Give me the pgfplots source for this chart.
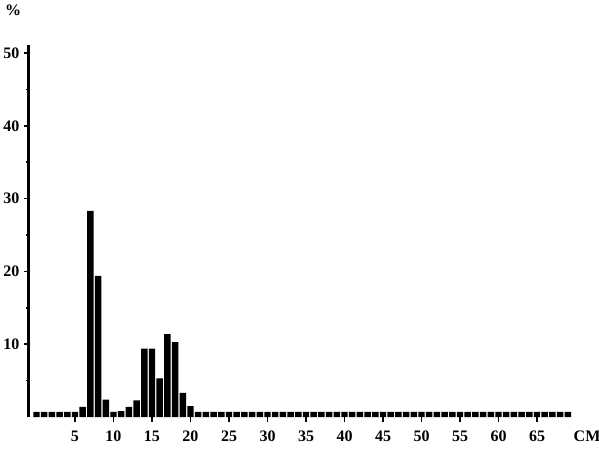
\documentclass[border=0pt]{standalone}
\usepackage{pgfplots}
\pgfplotsset{compat=1.18}
\usepackage{fontspec}
\setmainfont{Liberation Serif}
\begin{document}
\begin{tikzpicture}[x=1pt,y=1pt]
\path[use as bounding box] (0,0) rectangle (599,453);
\begin{axis}[
  at={(28.8pt,36pt)}, anchor=south west,
  scale only axis, width=546.7pt, height=372pt,
  xmin=-1, xmax=70, ymin=0, ymax=51.1,
  axis lines=left, axis line style={-},
  x axis line style={draw=none},
  y axis line style={line width=2.6pt},
  xtick={5,10,...,65}, ytick={10,20,...,50},
  minor ytick={5,15,...,45},
  tick align=outside, tick style={black, line width=1.5pt},
  major tick length=5pt, minor tick length=3pt,
  /pgf/number format/assume math mode=true,
  tick label style={font=\fontsize{16}{16}\selectfont\bfseries},
  xticklabel style={yshift=-5pt},
  yticklabel style={xshift=-1pt},
  clip=false,
  ybar, bar width=0.84, bar shift=0pt,
]
\addplot[fill=black, draw=none] coordinates {
(0,0.7)(1,0.7)(2,0.7)(3,0.7)(4,0.7)(5,0.7)(6,1.4)(7,28.3)(8,19.4)(9,2.4)
(10,0.7)(11,0.8)(12,1.4)(13,2.3)(14,9.4)(15,9.4)(16,5.3)(17,11.4)(18,10.3)(19,3.3)
(20,1.5)(21,0.7)(22,0.7)(23,0.7)(24,0.7)(25,0.7)(26,0.7)(27,0.7)(28,0.7)(29,0.7)
(30,0.7)(31,0.7)(32,0.7)(33,0.7)(34,0.7)(35,0.7)(36,0.7)(37,0.7)(38,0.7)(39,0.7)
(40,0.7)(41,0.7)(42,0.7)(43,0.7)(44,0.7)(45,0.7)(46,0.7)(47,0.7)(48,0.7)(49,0.7)
(50,0.7)(51,0.7)(52,0.7)(53,0.7)(54,0.7)(55,0.7)(56,0.7)(57,0.7)(58,0.7)(59,0.7)
(60,0.7)(61,0.7)(62,0.7)(63,0.7)(64,0.7)(65,0.7)(66,0.7)(67,0.7)(68,0.7)(69,0.7)
};
\node[font=\fontsize{16}{16}\selectfont\bfseries] at (axis cs:71.5,0) [yshift=-19pt] {CM};
\node[font=\fontsize{16}{16}\selectfont\bfseries] at (axis cs:-3.05,55.9) {\%};
\end{axis}
\end{tikzpicture}
\end{document}
